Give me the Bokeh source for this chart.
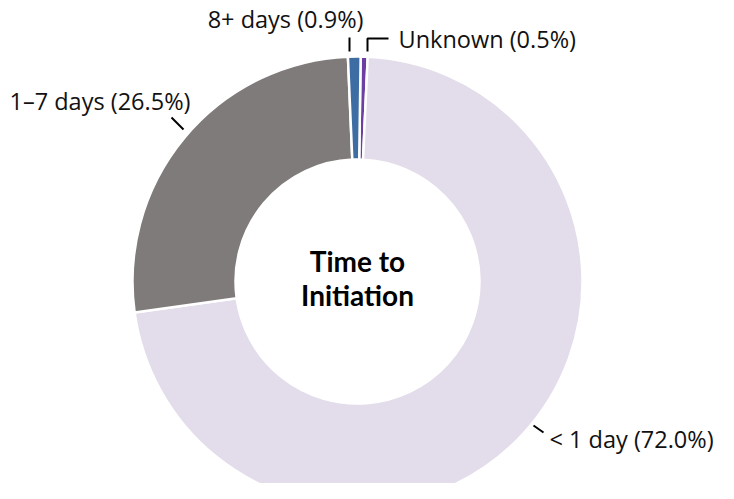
import math
from bokeh.plotting import figure
from bokeh.models import Range1d, ColumnDataSource
from bokeh.core.properties import value
from bokeh.embed import file_html
from bokeh.resources import INLINE

# ---- data ----
categories = ["Unknown", "< 1 day", "1\u20137 days", "8+ days"]
percents = [0.5, 72.0, 26.5, 0.9]
colors = ["#6E3FA3", "#E3DCEA", "#7F7B7A", "#3E6DA3"]
center_title = ["Time to", "Initiation"]

# ---- layout (image pixel coords; data y = -image y) ----
W, H = 718, 483
CX, CY = 357, -281
R_OUT, R_IN = 225, 122
ROT = math.radians(0.8)

p = figure(width=W, height=H, output_backend="svg", toolbar_location=None,
           x_range=Range1d(0, W), y_range=Range1d(-H, 0),
           min_border=0, match_aspect=False)
p.axis.visible = False
p.grid.visible = False
p.outline_line_color = None
p.background_fill_color = "white"
p.border_fill_color = "white"

total = sum(percents)
starts, ends = [], []
cum = 0.0
for v in percents:
    a_before = cum / total
    cum += v
    a_after = cum / total
    starts.append(math.pi / 2 - a_after * 2 * math.pi - ROT)
    ends.append(math.pi / 2 - a_before * 2 * math.pi - ROT)

src = ColumnDataSource(dict(start=starts, end=ends, color=colors))
p.annular_wedge(x=CX, y=CY, inner_radius=R_IN, outer_radius=R_OUT,
                start_angle="start", end_angle="end", fill_color="color",
                line_color="white", line_width=2.5, source=src)

labels = [f"{c} ({v:.1f}%)" for c, v in zip(categories, percents)]
# label anchor positions (image coords) and alignment
label_pos = {
    "Unknown": (398, 38, "left"),
    "< 1 day": (549, 438, "left"),
    "1\u20137 days": (9, 100, "left"),
    "8+ days": (363, 18, "right"),
}
for c, t in zip(categories, labels):
    x, y, al = label_pos[c]
    p.text(x=[x], y=[-y], text=[t], text_font=value("Open Sans"), text_font_size="23.5px",
           text_align=al, text_baseline="middle", text_color="#111111")

# leader lines
leaders = [
    ([349, 349], [37, 51]),
    ([367, 367, 388], [51, 38, 38]),
    ([171, 183], [117, 129]),
    ([533, 543], [425, 432]),
]
for xs, ys in leaders:
    p.line(x=xs, y=[-y for y in ys], line_color="black", line_width=2)

# center title
for i, t in enumerate(center_title):
    p.text(x=[CX], y=[-(260 + 34 * i)], text=[t], text_font=value("Lato"),
           text_font_size="28px", text_font_style="bold", text_align="center",
           text_baseline="middle", text_color="black")

open("out.html", "w").write(file_html(p, INLINE))
